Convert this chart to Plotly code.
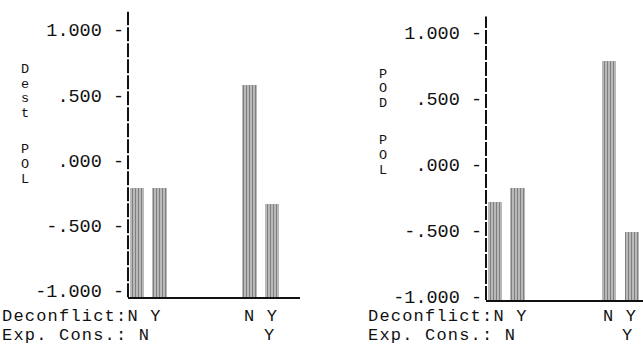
import plotly.graph_objects as go

# ---- data ----
deconflict = ["N", "Y", "N", "Y"]
exp_cons = ["N", "N", "Y", "Y"]
dest_pol = [-0.21, -0.21, 0.58, -0.33]
pod_pol = [-0.28, -0.18, 0.79, -0.51]
tick_vals = [1.0, 0.5, 0.0, -0.5, -1.0]
tick_labels = ["1.000", ".500", ".000", "-.500", "-1.000"]
title_left = ["Dest", "POL"]
title_right = ["POD", "POL"]

W, H = 643, 354
FONT = "Liberation Mono, Courier New, monospace"
FS = 18.5
INK = "#111111"

# bar positions: two groups (exp_cons), two bars each (deconflict), gap between groups
groups = []
for e in exp_cons:
    if e not in groups:
        groups.append(e)
xpos = []
seen = {}
for e in exp_cons:
    g = groups.index(e)
    k = seen.get(e, 0)
    seen[e] = k + 1
    xpos.append(g * 5 + k)

fig = go.Figure()

panels = [
    dict(vals=dest_pol, xa="x", ya="y", xdom=[128 / W, 300 / W], ydom=[50 / H, 342 / H],
         xr=[-0.4, 7.24], yr=[-1.05, 1.14], title=title_left, tx=25,
         ty=[[71, 86, 101, 116], [153, 168.5, 184]], row_x=1, grp2_center=261, grp2_y=269),
    dict(vals=pod_pol, xa="x2", ya="y2", xdom=[486 / W, 1.0], ydom=[47 / H, 337 / H],
         xr=[-0.39, 6.49], yr=[-1.03, 1.12], title=title_right, tx=383,
         ty=[[76, 91, 106], [144, 159, 174]], row_x=367, grp2_center=620, grp2_y=627),
]

ROW1, ROW2 = 324, 343
ROW_FS, ROW_LS = 17, 1.2   # 17px glyphs + 1.2px tracking = 11.4px typewriter pitch


def note(text, x, y, size, xanchor="center", ls=0.0):
    if ls:
        text = f"<span style='letter-spacing:{ls}px'>{text}</span>"
    fig.add_annotation(text=text, xref="paper", yref="paper", x=x / W, y=1 - y / H,
                       xanchor=xanchor, yanchor="middle", showarrow=False, borderpad=0,
                       font=dict(family=FONT, size=size, color=INK))


for i, p in enumerate(panels):
    ymin = p["yr"][0]
    fig.add_trace(go.Bar(
        x=xpos, y=[v - ymin for v in p["vals"]], base=ymin,
        xaxis=p["xa"], yaxis=p["ya"], width=0.64,
        marker=dict(color="white", line=dict(width=0),
                    pattern=dict(shape="|", fgcolor="#000000", bgcolor="white", size=3, solidity=0.7)),
        showlegend=False, hoverinfo="skip",
    ))
    sfx = "" if i == 0 else "2"
    fig.update_layout(**{
        "xaxis" + sfx: dict(domain=p["xdom"], range=p["xr"], anchor="y" + sfx, showticklabels=False,
                           showgrid=False, zeroline=False, showline=True, linecolor=INK, linewidth=2,
                           ticks=""),
        "yaxis" + sfx: dict(domain=p["ydom"], range=p["yr"], anchor="x" + sfx, tickvals=tick_vals,
                           ticktext=[t + " -" for t in tick_labels], ticks="", showgrid=False,
                           zeroline=False, showline=False, ticklabelstandoff=3,
                           tickfont=dict(family=FONT, size=FS, color=INK)),
    })
    # dashed (typewritten) vertical axis
    fig.add_shape(type="line", xref=p["xa"] + " domain", yref=p["ya"] + " domain",
                  x0=0, x1=0, y0=0, y1=1, line=dict(color=INK, width=2, dash="14px,2px"))
    # vertical stacked title letters
    for word, ys in zip(p["title"], p["ty"]):
        for ch, yy in zip(word, ys):
            note(ch, p["tx"], yy, 13.5)
    # category rows
    note("Deconflict:" + deconflict[0] + " " + deconflict[1], p["row_x"], ROW1, ROW_FS, "left", ROW_LS)
    note("Exp. Cons.: " + exp_cons[0], p["row_x"], ROW2, ROW_FS, "left", ROW_LS)
    note(deconflict[2] + " " + deconflict[3], p["grp2_center"], ROW1, ROW_FS, "center", ROW_LS)
    note(exp_cons[2], p["grp2_y"], ROW2, ROW_FS, "center")

fig.update_layout(width=W, height=H, margin=dict(l=0, r=0, t=0, b=0),
                  paper_bgcolor="white", plot_bgcolor="white", showlegend=False, bargap=0)

fig.write_html("out.html", config={"displayModeBar": False},
               post_script="document.body.style.margin='0';")
